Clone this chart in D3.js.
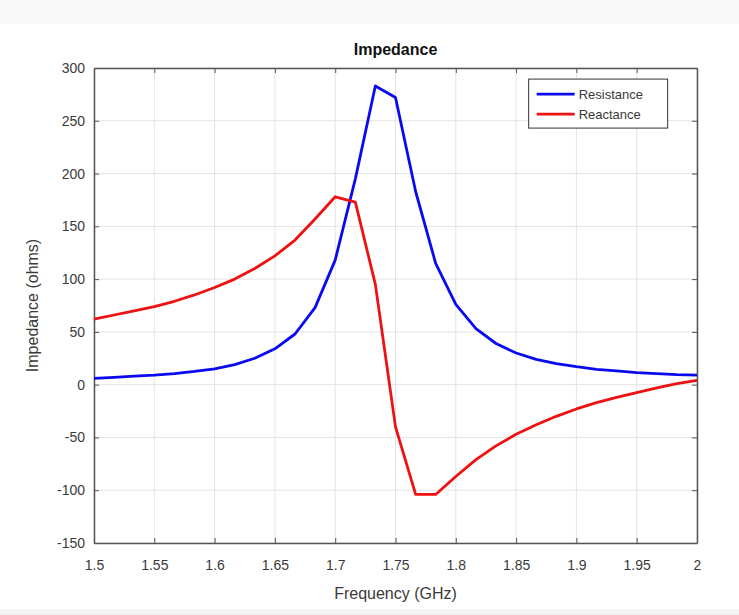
<!DOCTYPE html>
<html>
<head>
<meta charset="utf-8">
<script src="https://cdn.jsdelivr.net/npm/d3@7"></script>
<style>
  body { margin: 0; background: #fff; }
  text { font-family: "Liberation Sans", Arial, sans-serif; }
</style>
</head>
<body>
<div id="container"></div>
<script>
// Frequency samples (GHz), 31 points from 1.5 to 2.0
const freq = [1.5, 1.5167, 1.5333, 1.55, 1.5667, 1.5833, 1.6, 1.6167, 1.6333, 1.65,
    1.6667, 1.6833, 1.7, 1.7167, 1.7333, 1.75, 1.7667, 1.7833, 1.8, 1.8167,
    1.8333, 1.85, 1.8667, 1.8833, 1.9, 1.9167, 1.9333, 1.95, 1.9667, 1.9833, 2.0];

// Resistance (ohms)
const resistance = [6, 7, 8, 9, 10.5, 12.5, 15, 19, 25, 34,
    48, 73, 118, 195, 283, 272, 183, 115, 76, 53,
    39, 30, 24, 20, 17, 14.5, 13, 11.5, 10.5, 9.5, 9];

// Reactance (ohms)
const reactance = [62, 66, 70, 74, 79, 85, 92, 100, 110, 122,
    137, 157, 178, 173, 95, -40, -104, -104, -87, -71,
    -58, -47, -38, -30, -23, -17, -12, -7.5, -3, 1, 4];

const xTicks = [1.5, 1.55, 1.6, 1.65, 1.7, 1.75, 1.8, 1.85, 1.9, 1.95, 2];
const yTicks = [-150, -100, -50, 0, 50, 100, 150, 200, 250, 300];

const seriesNames = ["Resistance", "Reactance"];
const seriesColors = ["#0a0af0", "#ee1111"];

const W = 739, H = 615;
const margin = {top: 68, right: 42, bottom: 72, left: 94};
const width = W - margin.left - margin.right;
const height = H - margin.top - margin.bottom;

const root = d3.select("#container").append("svg")
    .attr("width", W)
    .attr("height", H);

// light gray bands top and bottom like the screenshot
root.append("rect").attr("x", 0).attr("y", 0).attr("width", W).attr("height", 24).attr("fill", "#f8f8f8");
root.append("rect").attr("x", 0).attr("y", 609).attr("width", W).attr("height", 6).attr("fill", "#f3f3f3");

const svg = root.append("g")
    .attr("transform", `translate(${margin.left},${margin.top})`);

const x = d3.scaleLinear().domain([1.5, 2]).range([0, width]);
const y = d3.scaleLinear().domain([-150, 300]).range([height, 0]);

// Grid lines
svg.append("g")
    .selectAll("line")
    .data(xTicks)
    .enter().append("line")
    .attr("x1", d => x(d)).attr("x2", d => x(d))
    .attr("y1", 0).attr("y2", height)
    .attr("stroke", "#e3e3e3").attr("stroke-width", 1);

svg.append("g")
    .selectAll("line")
    .data(yTicks)
    .enter().append("line")
    .attr("y1", d => y(d)).attr("y2", d => y(d))
    .attr("x1", 0).attr("x2", width)
    .attr("stroke", "#e3e3e3").attr("stroke-width", 1);

// Axes (ticks pointing inward, MATLAB style)
const axisColor = "#3a3a3a";
const frameColor = "#555";

const xAxis = svg.append("g")
    .attr("transform", `translate(0,${height})`)
    .call(d3.axisBottom(x).tickValues(xTicks).tickSizeInner(-5).tickSizeOuter(0).tickPadding(17)
        .tickFormat(d => String(+d.toFixed(2))));

const xTop = svg.append("g")
    .call(d3.axisTop(x).tickValues(xTicks).tickSizeInner(-5).tickSizeOuter(0).tickFormat(""));

const yAxis = svg.append("g")
    .call(d3.axisLeft(y).tickValues(yTicks).tickSizeInner(-5).tickSizeOuter(0).tickPadding(9)
        .tickFormat(d => String(d)));

const yRight = svg.append("g")
    .attr("transform", `translate(${width},0)`)
    .call(d3.axisRight(y).tickValues(yTicks).tickSizeInner(-5).tickSizeOuter(0).tickFormat(""));

[xAxis, xTop, yAxis, yRight].forEach(g => {
    g.selectAll("path").attr("stroke", frameColor).attr("stroke-width", 1.5);
    g.selectAll("line").attr("stroke", frameColor);
    g.selectAll("text").attr("fill", axisColor).style("font-size", "14px")
        .style("font-family", "'Liberation Sans', Arial, sans-serif");
});

// Lines
const line = d3.line()
    .x(d => x(d[0]))
    .y(d => y(d[1]));

const seriesData = [resistance, reactance].map(vals => freq.map((f, i) => [f, vals[i]]));

svg.selectAll(".series")
    .data(seriesData)
    .enter().append("path")
    .attr("class", "series")
    .attr("d", d => line(d))
    .attr("fill", "none")
    .attr("stroke", (d, i) => seriesColors[i])
    .attr("stroke-width", 2.8)
    .attr("stroke-linejoin", "round");

// Title and labels
svg.append("text")
    .attr("x", width / 2)
    .attr("y", -13)
    .attr("text-anchor", "middle")
    .style("font-size", "16px")
    .style("font-weight", "bold")
    .attr("fill", "#111")
    .text("Impedance");

svg.append("text")
    .attr("x", width / 2)
    .attr("y", height + 56)
    .attr("text-anchor", "middle")
    .style("font-size", "16px")
    .attr("fill", axisColor)
    .text("Frequency (GHz)");

svg.append("text")
    .attr("transform", `translate(-56,${height / 2}) rotate(-90)`)
    .attr("text-anchor", "middle")
    .style("font-size", "16px")
    .attr("fill", axisColor)
    .text("Impedance (ohms)");

// Legend
const legend = svg.append("g")
    .attr("transform", `translate(${x(1.86) + 0.5},${y(289.5)})`);

legend.append("rect")
    .attr("width", 139)
    .attr("height", 49)
    .attr("fill", "#fff")
    .attr("stroke", "#333")
    .attr("stroke-width", 1);

const items = legend.selectAll(".item")
    .data(seriesNames)
    .enter().append("g")
    .attr("class", "item")
    .attr("transform", (d, i) => `translate(0,${15 + i * 20})`);

items.append("line")
    .attr("x1", 8).attr("x2", 46)
    .attr("stroke", (d, i) => seriesColors[i])
    .attr("stroke-width", 2.8);

items.append("text")
    .attr("x", 50)
    .attr("dy", "0.35em")
    .style("font-size", "13px")
    .attr("fill", axisColor)
    .text(d => d);
</script>
</body>
</html>
